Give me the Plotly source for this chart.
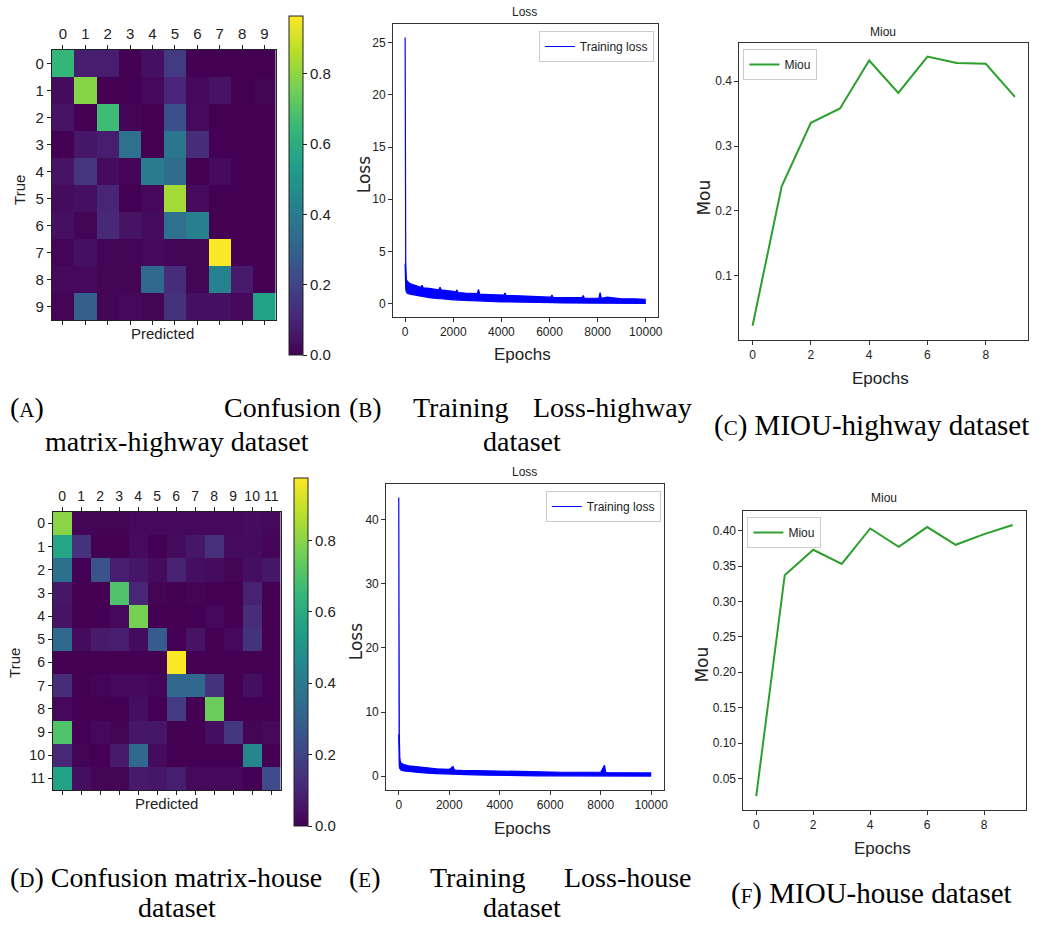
import plotly.graph_objects as go

W, H = 1042, 927

# ---------------- data ----------------
classes_highway = list(range(10))
classes_house = list(range(12))

cm_highway = [
    [0.64, 0.08, 0.08, 0.00, 0.04, 0.17, 0.00, 0.00, 0.00, 0.00],
    [0.03, 0.79, 0.00, 0.00, 0.02, 0.10, 0.02, 0.05, 0.00, 0.01],
    [0.05, 0.00, 0.66, 0.01, 0.00, 0.24, 0.03, 0.00, 0.00, 0.00],
    [0.00, 0.06, 0.08, 0.36, 0.00, 0.38, 0.12, 0.00, 0.00, 0.00],
    [0.05, 0.15, 0.03, 0.01, 0.40, 0.34, 0.00, 0.03, 0.00, 0.00],
    [0.03, 0.04, 0.10, 0.00, 0.02, 0.83, 0.03, 0.00, 0.00, 0.00],
    [0.04, 0.01, 0.11, 0.05, 0.03, 0.36, 0.42, 0.00, 0.00, 0.00],
    [0.01, 0.04, 0.01, 0.01, 0.02, 0.01, 0.01, 0.96, 0.00, 0.00],
    [0.02, 0.02, 0.01, 0.01, 0.32, 0.12, 0.01, 0.43, 0.07, 0.00],
    [0.01, 0.29, 0.01, 0.02, 0.01, 0.14, 0.04, 0.04, 0.02, 0.55],
]

cm_house = [
    [0.80, 0.01, 0.01, 0.01, 0.02, 0.02, 0.02, 0.02, 0.02, 0.02, 0.03, 0.02],
    [0.57, 0.14, 0.00, 0.00, 0.03, 0.00, 0.03, 0.06, 0.13, 0.03, 0.03, 0.01],
    [0.36, 0.00, 0.25, 0.08, 0.06, 0.03, 0.09, 0.04, 0.03, 0.01, 0.04, 0.06],
    [0.06, 0.00, 0.00, 0.70, 0.10, 0.01, 0.00, 0.01, 0.00, 0.00, 0.09, 0.00],
    [0.05, 0.00, 0.00, 0.02, 0.77, 0.00, 0.00, 0.00, 0.02, 0.00, 0.12, 0.00],
    [0.33, 0.03, 0.07, 0.08, 0.03, 0.28, 0.00, 0.05, 0.00, 0.02, 0.14, 0.00],
    [0.00, 0.00, 0.00, 0.00, 0.00, 0.00, 0.97, 0.00, 0.00, 0.00, 0.00, 0.00],
    [0.12, 0.00, 0.01, 0.02, 0.02, 0.01, 0.32, 0.32, 0.14, 0.00, 0.04, 0.00],
    [0.02, 0.00, 0.00, 0.00, 0.04, 0.00, 0.17, 0.00, 0.75, 0.00, 0.00, 0.00],
    [0.70, 0.00, 0.02, 0.01, 0.06, 0.06, 0.00, 0.00, 0.04, 0.16, 0.01, 0.02],
    [0.11, 0.01, 0.00, 0.07, 0.33, 0.03, 0.00, 0.00, 0.00, 0.00, 0.45, 0.00],
    [0.56, 0.04, 0.01, 0.01, 0.07, 0.06, 0.08, 0.02, 0.02, 0.02, 0.00, 0.22],
]

# Training loss (highway): upper / lower envelope of the noisy curve
loss_epochs_highway = [0, 10, 25, 50, 100, 200, 400, 650, 700, 750, 1000, 1400, 1450, 1500, 2000,
                       2100, 2150, 2200, 2500, 3000, 3050, 3100, 3500, 4000, 4100, 4150, 4200, 4500,
                       5000, 5500, 6000, 6050, 6100, 6150, 6500, 7000, 7350, 7400, 7450, 8000, 8050,
                       8100, 8150, 8400, 9000, 9500, 10000]
loss_upper_highway = [25.5, 9.5, 4.0, 2.3, 2.1, 1.9, 1.75, 1.55, 1.75, 1.5, 1.45, 1.3, 1.55, 1.3, 1.15,
                      1.1, 1.3, 1.05, 1.0, 0.95, 1.35, 0.9, 0.85, 0.8, 0.8, 1.0, 0.75, 0.75,
                      0.7, 0.65, 0.6, 0.6, 0.8, 0.55, 0.55, 0.55, 0.55, 0.75, 0.5, 0.5, 0.5,
                      1.05, 0.5, 0.6, 0.45, 0.45, 0.4]
loss_lower_highway = [3.8, 2.0, 1.4, 1.1, 0.95, 0.9, 0.8, 0.7, 0.7, 0.68, 0.55, 0.45, 0.45, 0.45, 0.35,
                      0.35, 0.35, 0.33, 0.3, 0.25, 0.25, 0.25, 0.2, 0.15, 0.15, 0.15, 0.15, 0.12,
                      0.1, 0.1, 0.08, 0.08, 0.08, 0.08, 0.05, 0.05, 0.05, 0.05, 0.05, 0.03, 0.03,
                      0.03, 0.03, 0.02, 0.02, 0.0, 0.0]

# Training loss (house)
loss_epochs_house = [0, 5, 10, 20, 40, 60, 100, 200, 400, 700, 1000, 1500, 2000, 2150, 2200,
                     2250, 2500, 3000, 3500, 4000, 4500, 5000, 5500, 6000, 6500, 7000, 7500,
                     8000, 8150, 8200, 8250, 8500, 9000, 9500, 9800, 10000]
loss_upper_house = [43.5, 16.5, 12.5, 6.5, 3.0, 2.3, 2.0, 1.8, 1.6, 1.45, 1.3, 1.15, 1.05, 1.5, 1.0,
                    0.95, 0.9, 0.85, 0.8, 0.75, 0.7, 0.7, 0.65, 0.65, 0.6, 0.6, 0.6,
                    0.6, 1.7, 0.6, 0.55, 0.55, 0.55, 0.6, 0.6, 0.5]
loss_lower_house = [6.5, 3.0, 2.0, 1.5, 1.2, 1.0, 0.9, 0.8, 0.7, 0.55, 0.5, 0.4, 0.3, 0.3, 0.3,
                    0.3, 0.25, 0.2, 0.15, 0.1, 0.1, 0.08, 0.05, 0.05, 0.05, 0.05, 0.03,
                    0.03, 0.03, 0.03, 0.03, 0.02, 0.02, 0.0, 0.0, 0.0]

miou_epochs = list(range(10))
miou_highway = [0.023, 0.238, 0.336, 0.358, 0.432, 0.382, 0.438, 0.428, 0.427, 0.376]
miou_house = [0.025, 0.337, 0.373, 0.353, 0.403, 0.377, 0.405, 0.380, 0.395, 0.408]

colorbar_ticks = [0.0, 0.2, 0.4, 0.6, 0.8]
loss_xticks = [0, 2000, 4000, 6000, 8000, 10000]
loss_yticks_highway = [0, 5, 10, 15, 20, 25]
loss_yticks_house = [0, 10, 20, 30, 40]
miou_xticks = [0, 2, 4, 6, 8]
miou_yticks_highway = [0.1, 0.2, 0.3, 0.4]
miou_yticks_house = [0.05, 0.10, 0.15, 0.20, 0.25, 0.30, 0.35, 0.40]

# ---------------- helpers ----------------
def px(x):
    return x / W


def py(y):
    return 1 - y / H


TICKFONT = "Liberation Sans, Arial, sans-serif"
LABELFONT = "DejaVu Sans, sans-serif"
SERIF = "Liberation Serif, Times New Roman, serif"
AX = "#333333"

fig = go.Figure()

# ---------------- heatmaps ----------------
def cbar(x, ytop, length):
    return dict(x=px(x), xanchor="left", xpad=0, y=py(ytop), yanchor="top", ypad=0,
                len=length, lenmode="pixels", thickness=14, thicknessmode="pixels",
                outlinecolor="#222", outlinewidth=1, ticks="outside", ticklen=4,
                tickcolor="#222", tickvals=colorbar_ticks,
                ticktext=["%.1f" % v for v in colorbar_ticks],
                tickfont=dict(family=TICKFONT, size=15, color="#222"))


fig.add_trace(go.Heatmap(z=cm_highway, x=classes_highway, y=classes_highway,
                         colorscale="Viridis", zmin=0, zmax=0.965,
                         xaxis="x", yaxis="y", colorbar=cbar(290, 16, 339)))
fig.add_trace(go.Heatmap(z=cm_house, x=classes_house, y=classes_house,
                         colorscale="Viridis", zmin=0, zmax=0.975,
                         xaxis="x4", yaxis="y4", colorbar=cbar(295, 478, 348)))

# ---------------- loss ----------------
def loss_traces(ep, up, lo, xa, ya, leg):
    fig.add_trace(go.Scatter(x=ep, y=up, mode="lines", line=dict(color="#0000ff", width=1.2),
                             name="Training loss", xaxis=xa, yaxis=ya, legend=leg,
                             showlegend=True))
    fig.add_trace(go.Scatter(x=ep, y=lo, mode="lines", line=dict(color="#0000ff", width=1.2),
                             fill="tonexty", fillcolor="#0000ff", name="Training loss",
                             xaxis=xa, yaxis=ya, legend=leg, showlegend=False))


loss_traces(loss_epochs_highway, loss_upper_highway, loss_lower_highway, "x2", "y2", "legend")
loss_traces(loss_epochs_house, loss_upper_house, loss_lower_house, "x5", "y5", "legend2")

# ---------------- miou ----------------
fig.add_trace(go.Scatter(x=miou_epochs, y=miou_highway, mode="lines", name="Miou",
                         line=dict(color="#2ca02c", width=2), xaxis="x3", yaxis="y3",
                         legend="legend3"))
fig.add_trace(go.Scatter(x=miou_epochs, y=miou_house, mode="lines", name="Miou",
                         line=dict(color="#2ca02c", width=2), xaxis="x6", yaxis="y6",
                         legend="legend4"))

# ---------------- axes ----------------
def hm_axes(n, xdom, ydom, fsize):
    xa = dict(domain=[px(xdom[0]), px(xdom[1])], range=[-0.5, n - 0.5], side="top",
              tickvals=list(range(n)), ticks="outside", ticklen=4, tickcolor="#222",
              tickangle=0,
              showline=True, linecolor="#222", linewidth=1, mirror="ticks",
              showgrid=False, zeroline=False,
              tickfont=dict(family=TICKFONT, size=fsize, color="#222"))
    ya = dict(domain=[py(ydom[1]), py(ydom[0])], range=[n - 0.5, -0.5],
              tickvals=list(range(n)), ticks="outside", ticklen=4, tickcolor="#222",
              showline=True, linecolor="#222", linewidth=1, mirror=True,
              showgrid=False, zeroline=False,
              tickfont=dict(family=TICKFONT, size=fsize, color="#222"))
    return xa, ya


def line_axes(xdom, ydom, xr, yr, xt, yt, ytext, tsize):
    xa = dict(domain=[px(xdom[0]), px(xdom[1])], range=xr, tickvals=xt,
              ticktext=[str(v) for v in xt],
              ticks="outside", ticklen=4, tickcolor=AX, showline=True, linecolor=AX,
              linewidth=1, mirror=True, showgrid=False, zeroline=False,
              tickfont=dict(family=TICKFONT, size=tsize, color="#222"))
    ya = dict(domain=[py(ydom[1]), py(ydom[0])], range=yr, tickvals=yt, ticktext=ytext,
              ticks="outside", ticklen=4, tickcolor=AX, showline=True, linecolor=AX,
              linewidth=1, mirror=True, showgrid=False, zeroline=False,
              tickfont=dict(family=TICKFONT, size=tsize, color="#222"))
    return xa, ya


xa1, ya1 = hm_axes(10, (52, 277), (50, 320), 15)
xa4, ya4 = hm_axes(12, (53, 282), (512, 790), 14)
xa2, ya2 = line_axes((395, 661), (24, 317), [-500, 10500], [-1.3, 26.8],
                     loss_xticks, loss_yticks_highway, [str(v) for v in loss_yticks_highway], 12)
xa5, ya5 = line_axes((388, 667), (484, 790), [-500, 10500], [-2.17, 45.6],
                     loss_xticks, loss_yticks_house, [str(v) for v in loss_yticks_house], 12)
xa3, ya3 = line_axes((743, 1033), (43, 340), [-0.45, 9.45], [0.001, 0.459],
                     miou_xticks, miou_yticks_highway, ["%.1f" % v for v in miou_yticks_highway], 12)
xa6, ya6 = line_axes((747, 1031), (511, 810), [-0.45, 9.47], [0.0054, 0.4277],
                     miou_xticks, miou_yticks_house, ["%.2f" % v for v in miou_yticks_house], 12)

axes = {}
for i, (xa, ya) in enumerate([(xa1, ya1), (xa2, ya2), (xa3, ya3), (xa4, ya4), (xa5, ya5), (xa6, ya6)], start=1):
    s = "" if i == 1 else str(i)
    xa["anchor"] = "y" + s
    ya["anchor"] = "x" + s
    axes["xaxis" + s] = xa
    axes["yaxis" + s] = ya


def legend_box(x, y, xanchor):
    return dict(x=px(x), y=py(y), xanchor=xanchor, yanchor="top", bgcolor="white",
                bordercolor="#cccccc", borderwidth=1, itemwidth=30,
                font=dict(family=TICKFONT, size=12, color="#222"), tracegroupgap=0)


fig.update_layout(
    width=W, height=H, margin=dict(l=0, r=0, t=0, b=0),
    paper_bgcolor="white", plot_bgcolor="white",
    legend=legend_box(657, 31, "right"),
    legend2=legend_box(664, 491, "right"),
    legend3=legend_box(747, 49, "left"),
    legend4=legend_box(751, 517, "left"),
    **axes,
)

# ---------------- text annotations ----------------
def note(text, x, y, size, family, xanchor="center", angle=0, color="#222"):
    fig.add_annotation(text=text, x=px(x), y=py(y), xref="paper", yref="paper",
                       xanchor=xanchor, yanchor="middle", showarrow=False, textangle=angle,
                       font=dict(family=family, size=size, color=color))


# axis labels of confusion matrices
note("True", 20, 190, 15, TICKFONT, angle=-90)
note("Predicted", 163, 333, 15, TICKFONT)
note("True", 14, 663, 15, TICKFONT, angle=-90)
note("Predicted", 167, 803, 15, TICKFONT)

# loss plots
note("Loss", 527, 12, 12, TICKFONT)
note("Loss", 527, 472, 12, TICKFONT)
note("Epochs", 525, 355, 17, TICKFONT)
note("Epochs", 525, 828, 17, TICKFONT)
note("Loss", 366, 175, 17, LABELFONT, angle=-90)
note("Loss", 358, 642, 17, LABELFONT, angle=-90)

# miou plots
note("Miou", 887, 32, 12, TICKFONT)
note("Miou", 888, 498, 12, TICKFONT)
note("Epochs", 885, 378, 17, TICKFONT)
note("Epochs", 887, 848, 17, TICKFONT)
note("Mou", 707, 198, 17, LABELFONT, angle=-90)
note("Mou", 705, 665, 17, LABELFONT, angle=-90)

# captions
def sc(letter):
    return "(<span style='font-size:21px'>%s</span>)" % letter


CS = 28
note(sc("A"), 8, 407, CS, SERIF, xanchor="left", color="black")
note("Confusion", 345, 407, CS, SERIF, xanchor="right", color="black")
note("matrix-highway dataset", 178, 441, CS, SERIF, color="black")
note(sc("B"), 349, 407, CS, SERIF, xanchor="left", color="black")
note("Training", 413, 407, CS, SERIF, xanchor="left", color="black")
note("Loss-highway", 697, 407, CS, SERIF, xanchor="right", color="black")
note("dataset", 525, 441, CS, SERIF, color="black")
note(sc("C") + " MIOU-highway dataset", 876, 425, 29, SERIF, color="black")

note(sc("D") + " Confusion matrix-house", 8, 877, CS, SERIF, xanchor="left", color="black")
note("dataset", 178, 907, CS, SERIF, color="black")
note(sc("E"), 349, 877, CS, SERIF, xanchor="left", color="black")
note("Training", 430, 877, CS, SERIF, xanchor="left", color="black")
note("Loss-house", 697, 877, CS, SERIF, xanchor="right", color="black")
note("dataset", 525, 907, CS, SERIF, color="black")
note(sc("F") + " MIOU-house dataset", 876, 893, 29, SERIF, color="black")

fig.write_html("out.html", config={"displayModeBar": False},
               post_script="document.body.style.margin='0';document.body.style.overflow='hidden';")
